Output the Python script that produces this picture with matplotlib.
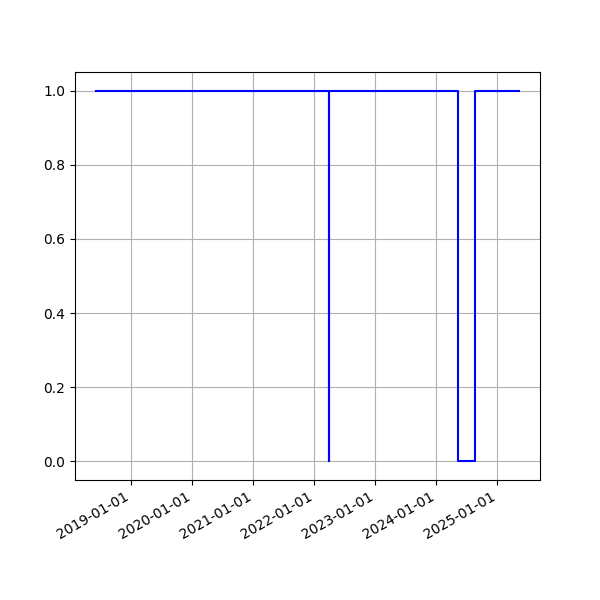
import matplotlib
matplotlib.use('Agg')
import matplotlib.pyplot as plt
import matplotlib.dates as mdates
import numpy as np

# dates where the status changes, and the status from that date on
change_dates = ["2018-06-04", "2022-03-29", "2022-03-30",
                "2024-05-08", "2024-08-19", "2025-05-09"]
status = [1, 0, 1, 0, 1, 1]

dates = np.array(change_dates, dtype='datetime64[D]')

fig, ax = plt.subplots(figsize=(6, 6), dpi=100)
ax.plot(dates, status, color='blue', drawstyle='steps-post')
ax.grid(True)
ax.xaxis.set_major_locator(mdates.YearLocator())
ax.xaxis.set_major_formatter(mdates.DateFormatter('%Y-%m-%d'))
fig.autofmt_xdate()

fig.savefig('out.png')
